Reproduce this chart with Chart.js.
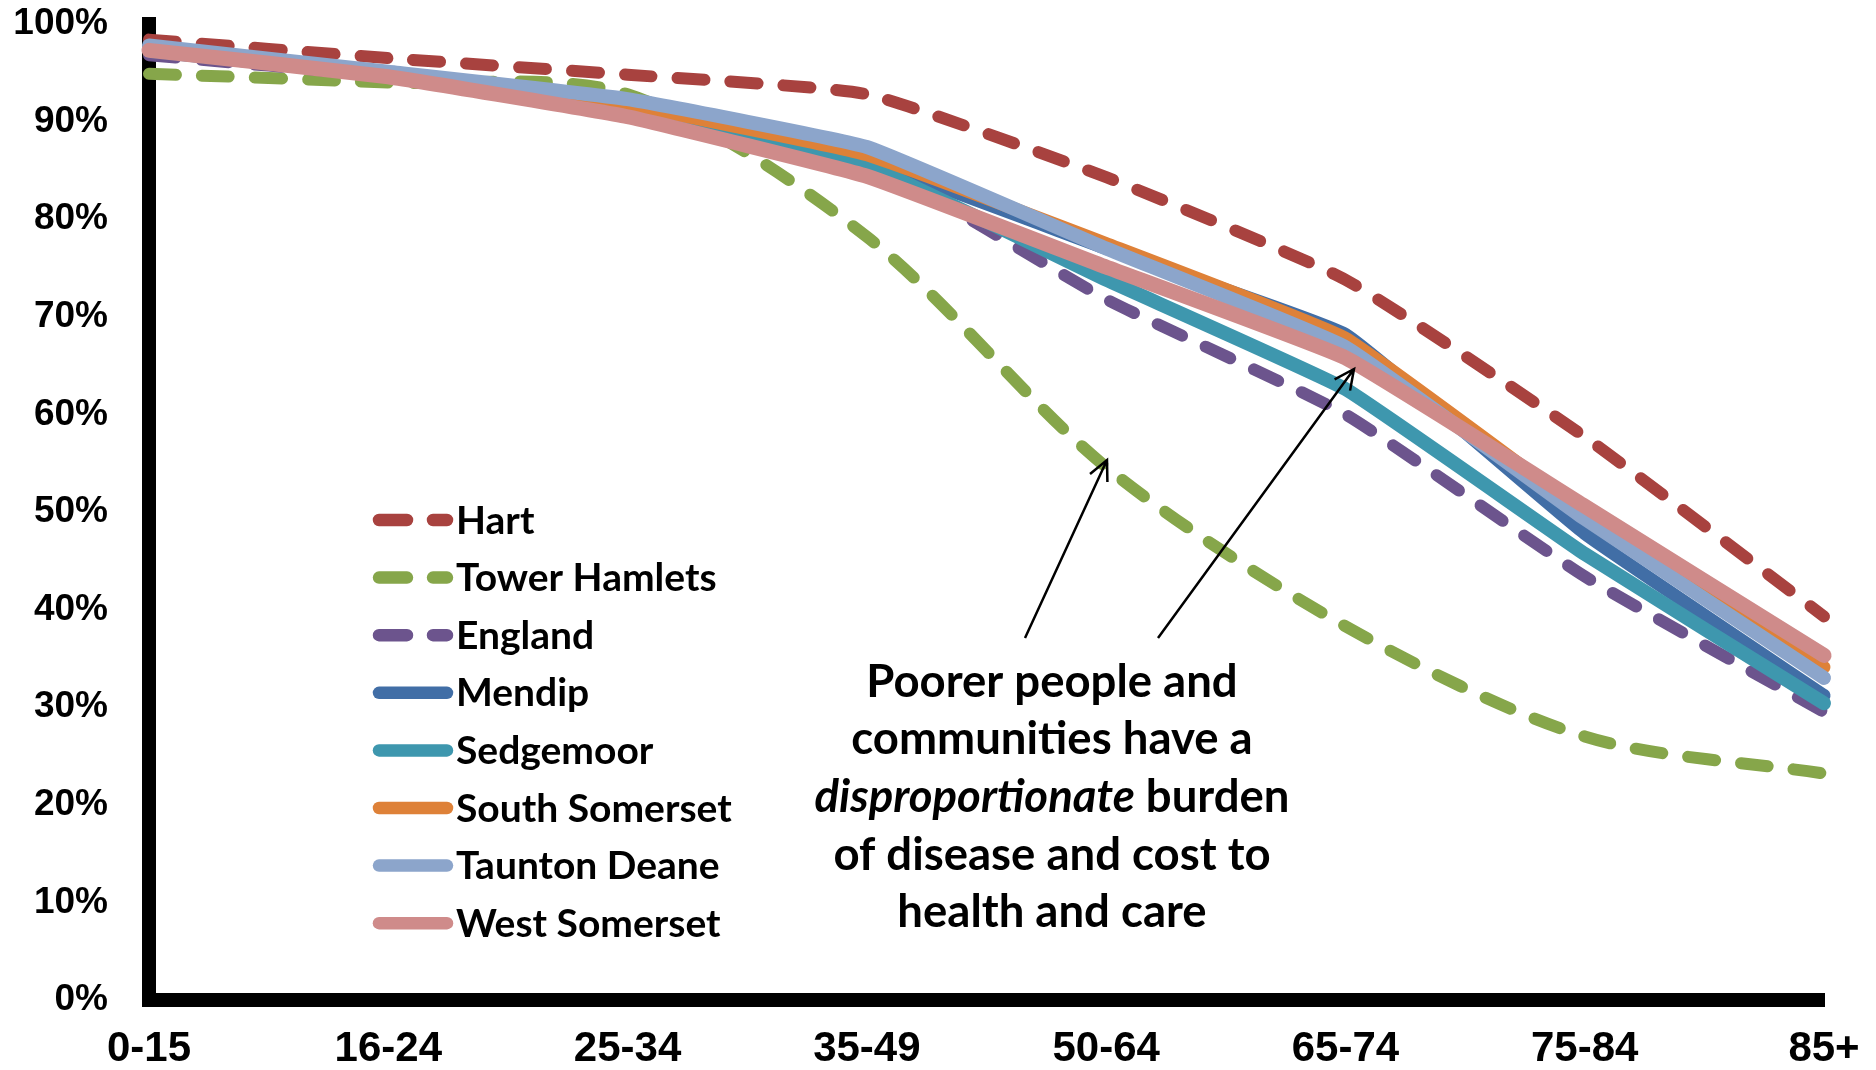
<!DOCTYPE html>
<html>
<head>
<meta charset="utf-8">
<script src="https://cdn.jsdelivr.net/npm/chart.js@4.4.1/dist/chart.umd.min.js"></script>
<style>
  html, body { margin: 0; padding: 0; background: #ffffff; }
  #wrap { width: 1876px; height: 1070px; position: relative; }
</style>
</head>
<body>
<div id="wrap"><canvas id="c" width="1876" height="1070"></canvas></div>
<script>
// ---- Data (percent of population) ----
const categories = ['0-15', '16-24', '25-34', '35-49', '50-64', '65-74', '75-84', '85+'];
const hart          = [98.4, 96.5, 94.8, 92.8, 84.3, 73.8, 57.7, 39.3];
const towerHamlets  = [94.9, 94.0, 92.8, 78.2, 54.6, 38.3, 27.0, 23.2];
const england       = [96.8, 94.6, 91.2, 85.8, 71.8, 60.0, 43.4, 29.5];
const mendip        = [97.2, 94.7, 91.6, 86.0, 77.0, 68.2, 47.8, 31.2];
const sedgemoor     = [97.5, 94.8, 91.5, 85.5, 73.8, 62.6, 45.7, 30.4];
const southSomerset = [97.5, 94.9, 91.7, 86.6, 77.5, 67.8, 50.0, 34.1];
const tauntonDeane  = [97.8, 95.1, 92.3, 87.4, 77.0, 66.9, 49.3, 33.0];
const westSomerset  = [97.3, 94.6, 90.5, 84.4, 75.1, 65.8, 50.6, 35.3];
const seriesNames = ['Hart', 'Tower Hamlets', 'England', 'Mendip', 'Sedgemoor', 'South Somerset', 'Taunton Deane', 'West Somerset'];
const yTicks = [0, 10, 20, 30, 40, 50, 60, 70, 80, 90, 100];
const annotationLines = [
  [['Poorer people and', false]],
  [['communities have a', false]],
  [['disproportionate', true], [' burden', false]],
  [['of disease and cost to', false]],
  [['health and care', false]]
];

// ---- Styles ----
const seriesValues = [hart, towerHamlets, england, mendip, sedgemoor, southSomerset, tauntonDeane, westSomerset];
const colors = ['#A8423F', '#86A64A', '#6C548D', '#416EA6', '#3E97AE', '#DE8138', '#8CA5CB', '#CF8B8A'];
const dashed = [true, true, true, false, false, false, false, false];
const widths = [12, 12, 12, 13, 14, 13, 14, 15];
const tensions = [0.15, 0.3, 0.15, 0.1, 0.1, 0.1, 0.1, 0.1];

const datasets = seriesValues.map((vals, i) => ({
  label: seriesNames[i],
  data: vals,
  borderColor: colors[i],
  backgroundColor: colors[i],
  borderWidth: widths[i],
  borderDash: dashed[i] ? [27, 26] : [],
  borderCapStyle: 'round',
  borderJoinStyle: 'round',
  pointRadius: 0,
  pointHoverRadius: 0,
  tension: tensions[i],
  cubicInterpolationMode: 'default',
  fill: false,
  clip: false,
  order: seriesValues.length - 1 - i
}));

const TEXT_FONT = 'Lato, "Open Sans", sans-serif';

const customLegend = {
  id: 'customLegend',
  afterDraw(chart) {
    const ctx = chart.ctx;
    const x0 = 379, x1 = 447;
    const textX = 456;
    const startY = 520, step = 57.6;
    ctx.save();
    chart.data.datasets.forEach((ds, i) => {
      const y = startY + i * step;
      ctx.beginPath();
      ctx.strokeStyle = ds.borderColor;
      ctx.lineWidth = 12.5;
      ctx.lineCap = 'round';
      ctx.setLineDash(ds.borderDash && ds.borderDash.length ? [28, 26] : []);
      ctx.moveTo(x0, y);
      ctx.lineTo(x1, y);
      ctx.stroke();
      ctx.setLineDash([]);
      ctx.fillStyle = '#000';
      ctx.font = 'bold 39px ' + TEXT_FONT;
      ctx.textBaseline = 'middle';
      ctx.textAlign = 'left';
      ctx.fillText(ds.label, textX, y + 1);
    });
    ctx.restore();
  }
};

function drawArrow(ctx, x1, y1, x2, y2) {
  const ang = Math.atan2(y2 - y1, x2 - x1);
  const head = 22, spread = 0.45;
  ctx.beginPath();
  ctx.moveTo(x1, y1);
  ctx.lineTo(x2, y2);
  ctx.moveTo(x2 - head * Math.cos(ang - spread), y2 - head * Math.sin(ang - spread));
  ctx.lineTo(x2, y2);
  ctx.lineTo(x2 - head * Math.cos(ang + spread), y2 - head * Math.sin(ang + spread));
  ctx.stroke();
}

const annotation = {
  id: 'annotation',
  afterDraw(chart) {
    const ctx = chart.ctx;
    ctx.save();
    ctx.strokeStyle = '#000';
    ctx.lineWidth = 2.5;
    ctx.lineCap = 'butt';
    ctx.lineJoin = 'miter';
    drawArrow(ctx, 1025, 638, 1107, 460);
    drawArrow(ctx, 1158, 638, 1354, 369);

    const cx = 1052, y0 = 682, lh = 57.7;
    ctx.fillStyle = '#000';
    ctx.textBaseline = 'middle';
    ctx.textAlign = 'left';
    annotationLines.forEach((segs, li) => {
      let total = 0;
      const fonts = segs.map(s => (s[1] ? 'italic bold ' : 'bold ') + '45.5px ' + TEXT_FONT);
      segs.forEach((s, k) => { ctx.font = fonts[k]; total += ctx.measureText(s[0]).width; });
      let x = cx - total / 2;
      segs.forEach((s, k) => {
        ctx.font = fonts[k];
        ctx.fillText(s[0], x, y0 + li * lh);
        x += ctx.measureText(s[0]).width;
      });
    });
    ctx.restore();
  }
};

new Chart(document.getElementById('c'), {
  type: 'line',
  data: { labels: categories, datasets: datasets },
  options: {
    responsive: false,
    devicePixelRatio: 1,
    animation: false,
    events: [],
    layout: { padding: { left: 0, top: 24, right: 52, bottom: 0 } },
    plugins: {
      legend: { display: false },
      tooltip: { enabled: false },
      title: { display: false }
    },
    scales: {
      x: {
        type: 'category',
        offset: false,
        grid: { display: false, drawTicks: false },
        border: { display: true, color: '#000', width: 14 },
        ticks: {
          color: '#000',
          font: { family: '"Liberation Sans", Arial, sans-serif', weight: 'bold', size: 42 },
          padding: 24,
          maxRotation: 0,
          autoSkip: false
        },
        afterFit(scale) {
          scale.height = 70;
          scale.paddingLeft = 0; scale.paddingRight = 0;
          scale.paddingTop = 0; scale.paddingBottom = 0;
        }
      },
      y: {
        min: 0,
        max: 100,
        afterBuildTicks(scale) { scale.ticks = yTicks.map(v => ({ value: v })); },
        grid: { display: false, drawTicks: false },
        border: { display: true, color: '#000', width: 14 },
        ticks: {
          color: '#000',
          font: { family: '"Liberation Sans", Arial, sans-serif', weight: 'bold', size: 37 },
          padding: 41,
          callback: v => v + '%'
        },
        afterFit(scale) {
          scale.width = 149;
          scale.paddingTop = 0; scale.paddingBottom = 0;
          scale.paddingLeft = 0; scale.paddingRight = 0;
        }
      }
    }
  },
  plugins: [customLegend, annotation]
});
</script>
</body>
</html>
